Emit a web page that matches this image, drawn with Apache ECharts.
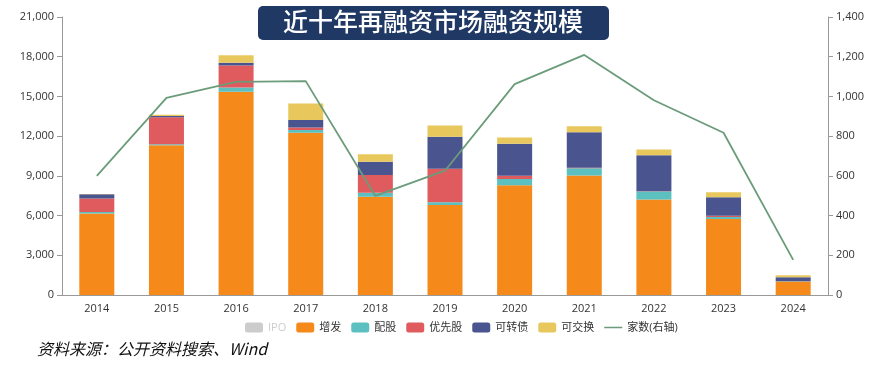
<!DOCTYPE html>
<html><head><meta charset="utf-8">
<script src="https://cdn.jsdelivr.net/npm/echarts@6/dist/echarts.min.js"></script>
<style>html,body{margin:0;padding:0;background:#fff}#c{width:886px;height:371px}</style>
</head><body><div id="c"></div>
<script>
const years = ['2014','2015','2016','2017','2018','2019','2020','2021','2022','2023','2024'];
const ipo = [0,0,0,0,0,0,0,0,0,0,0];
const zengfa = [6150,11320,15350,12260,7430,6790,8290,9020,7210,5750,1020];
const peigu = [120,60,330,200,300,220,475,560,600,150,20];
const youxian = [1020,2050,1660,200,1330,2530,250,30,30,90,0];
const kezhuan = [320,90,200,550,1000,2410,2410,2690,2710,1390,300];
const kejiao = [20,100,580,1260,580,860,480,450,450,380,150];
const count = [600,993,1073,1077,499,626,1062,1209,981,817,177];
const leftTicks = [0,21000,3000];
const rightTicks = [0,1400,200];

const fmt = v => v.toLocaleString('en-US');
const font = 'Open Sans, Noto Sans CJK SC, sans-serif';
const chart = echarts.init(document.getElementById('c'));
const bar = (name, data, color) => ({name, type:'bar', stack:'s', data, barWidth:35, itemStyle:{color}, yAxisIndex:0});
chart.setOption({
  animation:false,
  textStyle:{fontFamily:font},
  grid:{left:62,right:58,top:17,bottom:76},
  legend:{
    left:240, top:317, itemWidth:18, itemHeight:10, itemGap:10,
    textStyle:{fontSize:11,color:'#333',fontFamily:font},
    selected:{'IPO':false},
    inactiveColor:'#ccc',
    data:[{name:'IPO',icon:'roundRect'},{name:'增发',icon:'roundRect'},{name:'配股',icon:'roundRect'},{name:'优先股',icon:'roundRect'},{name:'可转债',icon:'roundRect'},{name:'可交换',icon:'roundRect'},
      {name:'家数(右轴)',icon:'path://M0,0L0.01,0Z M20,10L20.01,10Z M0,4.2L20,4.2L20,5.8L0,5.8Z'}]
  },
  xAxis:{type:'category',data:years,
    axisLine:{lineStyle:{color:'#999'}},
    axisTick:{alignWithLabel:true,lineStyle:{color:'#999'}},
    axisLabel:{color:'#333',fontSize:11,margin:8}},
  yAxis:[
    {type:'value',min:leftTicks[0],max:leftTicks[1],interval:leftTicks[2],
     axisLine:{show:true,lineStyle:{color:'#999'}},axisTick:{show:true,lineStyle:{color:'#999'}},
     splitLine:{show:false},axisLabel:{color:'#333',fontSize:11,formatter:fmt}},
    {type:'value',min:rightTicks[0],max:rightTicks[1],interval:rightTicks[2],
     axisLine:{show:true,lineStyle:{color:'#999'}},axisTick:{show:true,lineStyle:{color:'#999'}},
     splitLine:{show:false},axisLabel:{color:'#333',fontSize:11,formatter:fmt}}
  ],
  series:[
    bar('IPO',ipo,'#c8c8c8'),
    bar('增发',zengfa,'#f5891a'),
    bar('配股',peigu,'#5cbfc0'),
    bar('优先股',youxian,'#e05b5e'),
    bar('可转债',kezhuan,'#4a5590'),
    bar('可交换',kejiao,'#e8c85c'),
    {name:'家数(右轴)',type:'line',yAxisIndex:1,data:count,symbol:'none',
     lineStyle:{color:'#6b9c7a',width:1.8},itemStyle:{color:'#6b9c7a'}}
  ],
  graphic:[
    {type:'rect',left:258,top:6,shape:{width:351,height:34,r:5},style:{fill:'#1f3864'},z:100},
    {type:'text',left:283,top:9,style:{text:'近十年再融资市场融资规模',fill:'#fff',font:'500 25px "Noto Sans CJK SC", serif'},z:101},
    {type:'text',left:37,top:341,style:{text:'资料来源：公开资料搜索、Wind',fill:'#111',font:'italic 16px "Noto Sans CJK SC", sans-serif'}}
  ]
});
</script></body></html>
